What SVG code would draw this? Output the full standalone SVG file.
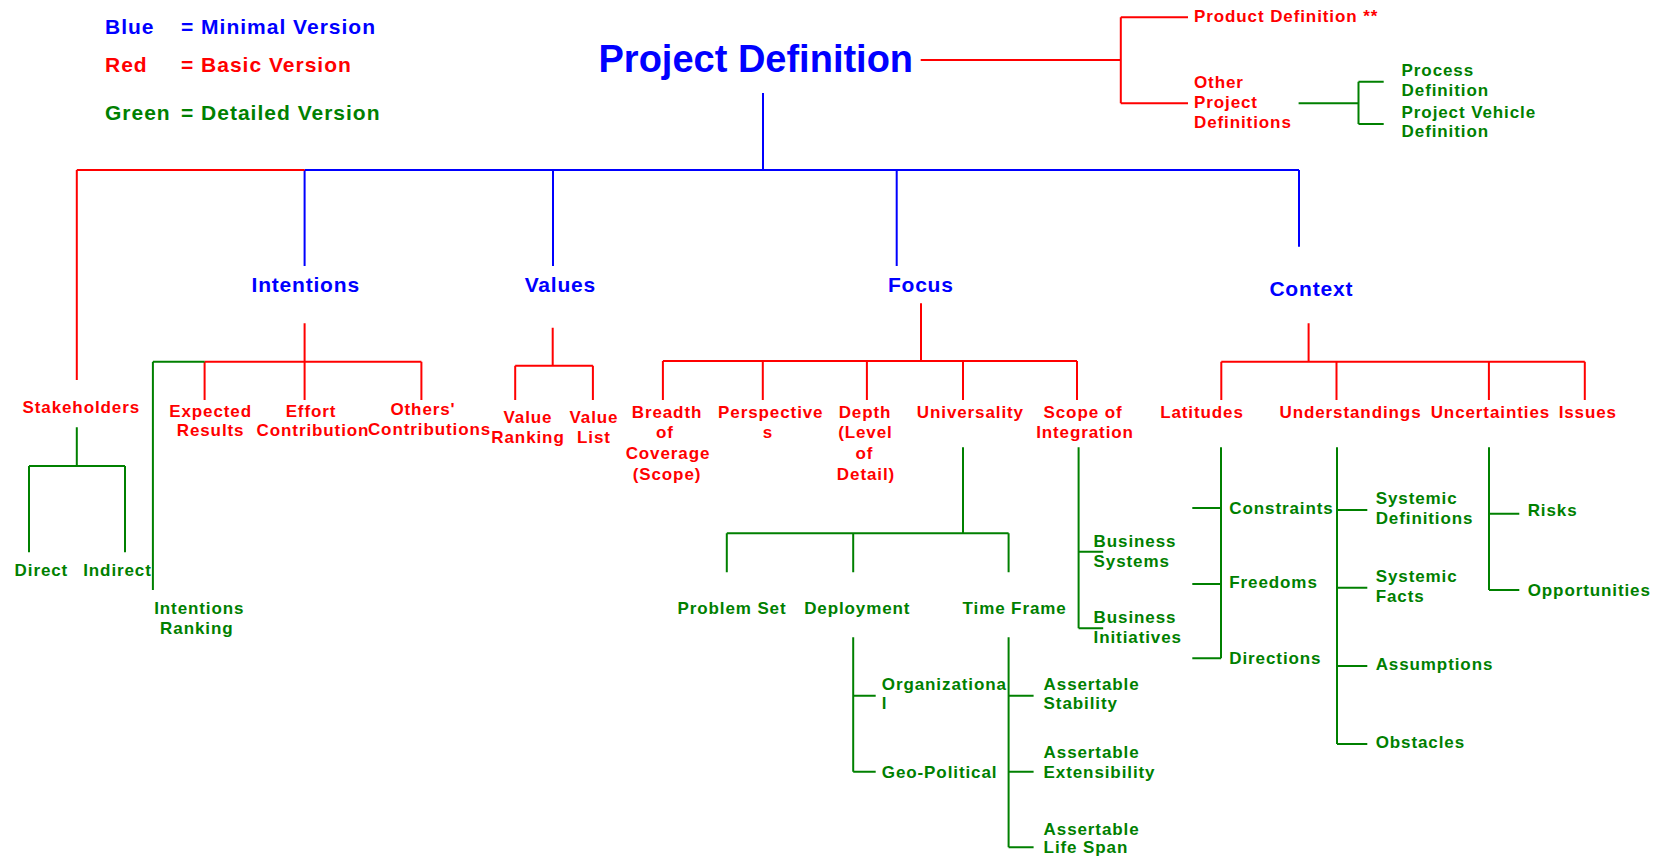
<svg xmlns="http://www.w3.org/2000/svg" width="1663" height="858" viewBox="0 0 1663 858">
<style>
text{font-family:"Liberation Sans",Arial,sans-serif;font-weight:bold}
.lg{font-size:21px;letter-spacing:1px}
.t{font-size:38px;fill:#0000FF}
.n1{font-size:21px;letter-spacing:0.8px;fill:#0000FF;text-anchor:middle}
.r{font-size:17px;letter-spacing:0.9px;fill:#FF0000}
.g{font-size:17px;letter-spacing:0.9px;fill:#008000}
.m{text-anchor:middle}
.cb{stroke:#0000FF;stroke-width:2;fill:none}
.cr{stroke:#FF0000;stroke-width:2;fill:none}
.cg{stroke:#008000;stroke-width:2;fill:none}
</style>
<rect width="1663" height="858" fill="#FFFFFF"/>
<g id="legend">
<text class="lg" fill="#0000FF" y="34"><tspan x="105">Blue</tspan><tspan x="181">= Minimal Version</tspan></text>
<text class="lg" fill="#FF0000" y="72"><tspan x="105">Red</tspan><tspan x="181">= Basic Version</tspan></text>
<text class="lg" fill="#008000" y="120"><tspan x="105">Green</tspan><tspan x="181">= Detailed Version</tspan></text>
</g>
<g id="connectors">
<path class="cb" d="M763,93V170M304.6,170H1299M304.6,170V266M553,170V266M896.7,170V266M1299,170V246.7"/>
<path class="cr" d="M76.8,170H304.6M76.8,170V380M920.7,60H1120.8M1120.8,17.3V103.3M1120.8,17.3H1188M1120.8,103.3H1188M304.6,323.3V400M204.6,361.7H421.4M204.6,361.7V400M421.4,361.7V400M552.7,327.7V365.7M515.2,365.7H592.9M515.2,365.7V400M592.9,365.7V400M921,303.3V361M662.9,361H1077M662.9,361V400M762.8,361V400M866.9,361V400M963,361V400M1077,361V400M1308.6,323.3V361.7M1221.3,361.7H1584.8M1221.3,361.7V400M1336.5,361.7V400M1488.9,361.7V400M1584.8,361.7V400"/>
<path class="cg" d="M1298.6,103.3H1358.5M1358.5,81.7V124M1358.5,81.7H1383.7M1358.5,124H1383.7M76.8,427.3V466M29,466H125M29,466V552.3M125,466V552.3M152.9,361.7H204.6M152.9,361.7V590M963,447.3V533.3M726.8,533.3H1008.6M726.8,533.3V572.3M853.2,533.3V572.3M1008.6,533.3V572.3M853.2,637.3V771.7M853.2,695.7H875.7M853.2,771.7H875.7M1008.6,637.3V847.3M1008.6,695.7H1033.6M1008.6,771.7H1033.6M1008.6,847.3H1033.6M1078.6,447.3V628.3M1078.6,551.7H1103.2M1078.6,628.3H1103.2M1221,447.3V658.3M1192.3,508H1221M1192.3,584H1221M1192.3,658.3H1221M1337,447.3V744M1337,510H1367.3M1337,587.7H1367.3M1337,666H1367.3M1337,744H1367.3M1489,447.3V590M1489,513.7H1519.3M1489,590H1519.3"/>
</g>
<g id="project-definition"><text class="t" x="598.5" y="72">Project Definition</text></g>
<g id="product-definition"><text class="r" x="1194" y="21.7">Product Definition **</text></g>
<g id="other-project-definitions"><text class="r" x="1194" y="88.3">Other<tspan x="1194" y="108.3">Project</tspan><tspan x="1194" y="128.3">Definitions</tspan></text></g>
<g id="process-definition"><text class="g" x="1401.6" y="76">Process<tspan x="1401.6" y="95.7">Definition</tspan></text></g>
<g id="project-vehicle-definition"><text class="g" x="1401.6" y="117.7">Project Vehicle<tspan x="1401.6" y="137.3">Definition</tspan></text></g>
<g id="intentions"><text class="n1" x="305.7" y="292.3">Intentions</text></g>
<g id="values"><text class="n1" x="560.4" y="291.7">Values</text></g>
<g id="focus"><text class="n1" x="920.8" y="291.7">Focus</text></g>
<g id="context"><text class="n1" x="1311.3" y="295.7">Context</text></g>
<g id="stakeholders"><text class="r m" x="81.3" y="412.5">Stakeholders</text></g>
<g id="direct"><text class="g m" x="41.4" y="575.7">Direct</text></g>
<g id="indirect"><text class="g m" x="117.5" y="575.7">Indirect</text></g>
<g id="intentions-ranking"><text class="g m" x="199.3" y="614">Intentions<tspan x="196.8" y="634">Ranking</tspan></text></g>
<g id="expected-results"><text class="r m" x="210.6" y="416.7">Expected<tspan x="210.6" y="436">Results</tspan></text></g>
<g id="effort-contribution"><text class="r m" x="311" y="416.7">Effort<tspan x="313" y="436">Contribution</tspan></text></g>
<g id="others-contributions"><text class="r m" x="423" y="415">Others'<tspan x="429.5" y="435">Contributions</tspan></text></g>
<g id="value-ranking"><text class="r m" x="528" y="423.3">Value<tspan x="528" y="443.3">Ranking</tspan></text></g>
<g id="value-list"><text class="r m" x="594" y="423.3">Value<tspan x="594" y="443.3">List</tspan></text></g>
<g id="breadth"><text class="r m" x="667" y="417.7">Breadth<tspan x="665" y="438.3">of</tspan><tspan x="668" y="459">Coverage</tspan><tspan x="667" y="479.7">(Scope)</tspan></text></g>
<g id="perspectives"><text class="r m" x="770.8" y="417.7">Perspective<tspan x="768" y="437.7">s</tspan></text></g>
<g id="depth"><text class="r m" x="865" y="417.7">Depth<tspan x="865.4" y="438.3">(Level</tspan><tspan x="864.4" y="459">of</tspan><tspan x="866" y="479.7">Detail)</tspan></text></g>
<g id="universality"><text class="r m" x="970.4" y="417.7">Universality</text></g>
<g id="scope-of-integration"><text class="r m" x="1083" y="417.7">Scope of<tspan x="1085" y="437.7">Integration</tspan></text></g>
<g id="latitudes"><text class="r m" x="1202" y="417.7">Latitudes</text></g>
<g id="understandings"><text class="r m" x="1350.5" y="417.7">Understandings</text></g>
<g id="uncertainties"><text class="r m" x="1490.4" y="417.7">Uncertainties</text></g>
<g id="issues"><text class="r m" x="1587.8" y="417.7">Issues</text></g>
<g id="problem-set"><text class="g m" x="732" y="614">Problem Set</text></g>
<g id="deployment"><text class="g m" x="857.3" y="614">Deployment</text></g>
<g id="time-frame"><text class="g m" x="1014.6" y="614">Time Frame</text></g>
<g id="organizational"><text class="g" x="881.8" y="690">Organizationa<tspan x="881.8" y="709.3">l</tspan></text></g>
<g id="geo-political"><text class="g" x="881.8" y="777.7">Geo-Political</text></g>
<g id="assertable-stability"><text class="g" x="1043.6" y="690">Assertable<tspan x="1043.6" y="709.3">Stability</tspan></text></g>
<g id="assertable-extensibility"><text class="g" x="1043.6" y="758.3">Assertable<tspan x="1043.6" y="777.7">Extensibility</tspan></text></g>
<g id="assertable-life-span"><text class="g" x="1043.6" y="835">Assertable<tspan x="1043.6" y="853.3">Life Span</tspan></text></g>
<g id="business-systems"><text class="g" x="1093.6" y="547.3">Business<tspan x="1093.6" y="567.3">Systems</tspan></text></g>
<g id="business-initiatives"><text class="g" x="1093.6" y="623.3">Business<tspan x="1093.6" y="643.3">Initiatives</tspan></text></g>
<g id="constraints"><text class="g" x="1229.3" y="514">Constraints</text></g>
<g id="freedoms"><text class="g" x="1229.3" y="588.3">Freedoms</text></g>
<g id="directions"><text class="g" x="1229.3" y="664">Directions</text></g>
<g id="systemic-definitions"><text class="g" x="1375.7" y="504">Systemic<tspan x="1375.7" y="524">Definitions</tspan></text></g>
<g id="systemic-facts"><text class="g" x="1375.7" y="582.3">Systemic<tspan x="1375.7" y="602.3">Facts</tspan></text></g>
<g id="assumptions"><text class="g" x="1375.7" y="670">Assumptions</text></g>
<g id="obstacles"><text class="g" x="1375.7" y="748.3">Obstacles</text></g>
<g id="risks"><text class="g" x="1527.7" y="516">Risks</text></g>
<g id="opportunities"><text class="g" x="1527.7" y="596">Opportunities</text></g>
</svg>
